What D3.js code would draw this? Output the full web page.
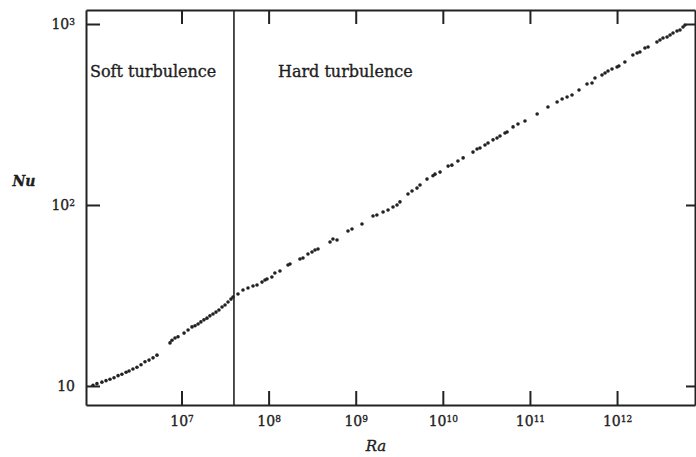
<!DOCTYPE html>
<html>
<head>
<meta charset="utf-8">
<script src="https://cdn.jsdelivr.net/npm/d3@7"></script>
<style>
  html, body { margin: 0; padding: 0; background: #fff; }
  svg { display: block; }
  text { font-family: "DejaVu Serif", "Liberation Serif", serif; fill: #1e1e1e; stroke: #1e1e1e; stroke-width: 0.35px; }
</style>
</head>
<body>
<svg id="chart" width="696" height="457"></svg>
<script>
// Nusselt number against Rayleigh number, helium convection cell
const ra = [
  9.64e5, 1.07e6, 1.22e6, 1.36e6, 1.51e6, 1.68e6, 1.87e6, 2.07e6, 2.31e6, 2.50e6,
  2.77e6, 3.08e6, 3.43e6, 3.81e6, 4.24e6, 4.71e6, 5.23e6, 7.38e6, 7.78e6, 8.42e6,
  9.12e6, 1.07e7, 1.19e7, 1.32e7, 1.43e7, 1.55e7, 1.67e7, 1.81e7, 1.96e7, 2.12e7,
  2.30e7, 2.49e7, 2.69e7, 2.92e7, 3.16e7, 3.42e7, 3.70e7, 3.90e7,
  4.45e7, 5.08e7, 5.80e7, 6.62e7, 7.36e7, 8.40e7, 9.09e7, 9.59e7, 1.09e8, 1.18e8,
  1.35e8, 1.67e8, 1.76e8, 2.29e8, 2.48e8, 2.83e8, 3.15e8, 3.41e8, 3.69e8, 5.07e8,
  5.48e8, 6.10e8, 8.15e8, 9.06e8, 1.18e9, 1.58e9, 1.75e9, 2.06e9, 2.35e9, 2.68e9,
  2.98e9, 3.22e9, 3.98e9, 4.43e9, 5.05e9, 5.47e9, 6.58e9, 7.71e9, 8.13e9, 9.29e9,
  1.15e10, 1.27e10, 1.49e10, 1.71e10, 2.22e10, 2.47e10, 2.67e10, 3.05e10, 3.30e10, 3.77e10,
  4.19e10, 4.53e10, 5.17e10, 5.46e10, 6.40e10, 7.29e10, 8.77e10, 1.21e11, 1.61e11, 2.05e11,
  2.34e11, 2.67e11, 3.04e11, 3.66e11, 4.52e11, 5.16e11, 5.58e11, 6.72e11, 7.28e11, 7.87e11,
  8.75e11, 1.00e12, 1.05e12, 1.23e12, 1.52e12, 1.70e12, 1.83e12, 2.09e12, 2.27e12, 2.87e12,
  3.11e12, 3.37e12, 3.75e12, 4.06e12, 4.39e12, 4.88e12, 5.28e12, 5.72e12, 6.03e12
];
const nu = [
  10.1, 10.3, 10.5, 10.7, 10.9, 11.1, 11.4, 11.6, 11.9, 12.1,
  12.4, 12.7, 13.1, 13.6, 13.9, 14.3, 14.8, 17.3, 17.9, 18.4,
  18.7, 19.6, 20.4, 21.2, 21.5, 22.0, 22.6, 23.2, 23.7, 24.4,
  25.0, 25.6, 26.3, 27.3, 28.0, 29.1, 30.2, 31.0,
  32.2, 33.9, 34.8, 35.7, 36.1, 37.5, 38.5, 39.0, 40.0, 42.1,
  43.2, 46.6, 47.2, 50.3, 50.9, 53.6, 55.0, 56.4, 57.1, 62.4,
  64.9, 64.1, 71.8, 73.7, 78.5, 87.0, 88.1, 91.5, 93.8, 97.5,
  100, 104, 115, 119.5, 124, 129, 139, 145, 148, 152,
  164, 166, 175, 182, 196, 204, 206.5, 214.5, 220, 229,
  234.5, 240.5, 250, 253, 270, 280, 291, 318, 348, 371,
  385, 395, 405, 432, 466, 472, 503, 523, 536, 550,
  564, 579, 586, 617, 674, 692, 700, 737, 746, 795,
  816, 837, 848, 869, 892, 915, 926, 962, 987
];
const raTicks = [1e7, 1e8, 1e9, 1e10, 1e11, 1e12];
const nuTicks = [10, 100, 1000];
const transitionRa = 4e7;
const regionLabels = ["Soft turbulence", "Hard turbulence"];
const axisTitles = { x: "Ra", y: "Nu" };

const svg = d3.select("#chart");
const margin = { top: 10, right: 1, bottom: 52, left: 86 };
const W = 696, H = 457;
const plotW = W - margin.left - margin.right;
const plotH = H - margin.top - margin.bottom;

const x = d3.scaleLog().domain([8.01e5, 7.85e12]).range([0, plotW]);
const y = d3.scaleLog().domain([7.85, 1195]).range([plotH, 0]);

const g = svg.append("g").attr("transform", `translate(${margin.left},${margin.top})`);

// exponent label: "10" with a raised power, plain "10" for the first decade
function powerLabel(sel) {
  sel.each(function(d) {
    const t = d3.select(this);
    const e = Math.round(Math.log10(d));
    t.text(null);
    t.append("tspan").text("10");
    if (e !== 1) {
      t.append("tspan").attr("dy", "-0.45em").attr("font-size", "9px").text(e);
    }
  });
}

const ink = "#222";
const tick = 14;

const xBottom = g.append("g").attr("transform", `translate(0,${plotH})`)
  .call(d3.axisBottom(x).tickValues(raTicks).tickSizeInner(-tick).tickSizeOuter(0).tickPadding(11));
const xTop = g.append("g")
  .call(d3.axisTop(x).tickValues(raTicks).tickSizeInner(-tick).tickSizeOuter(0).tickFormat(""));
const yLeft = g.append("g")
  .call(d3.axisLeft(y).tickValues(nuTicks).tickSizeInner(-tick).tickSizeOuter(0).tickPadding(11));
const yRight = g.append("g").attr("transform", `translate(${plotW},0)`)
  .call(d3.axisRight(y).tickValues(nuTicks).tickSizeInner(-9).tickSizeOuter(0).tickFormat(""));

[xBottom, xTop, yLeft, yRight].forEach(a => {
  a.select(".domain").attr("stroke", ink).attr("stroke-width", 2);
  a.selectAll(".tick line").attr("stroke", ink).attr("stroke-width", 2);
  a.selectAll(".tick text").attr("fill", "#1e1e1e").attr("font-size", "14px")
    .attr("font-family", "DejaVu Serif, Liberation Serif, serif");
});
xBottom.selectAll(".tick text").call(powerLabel);
yLeft.selectAll(".tick text").call(powerLabel);

// boundary between the two regimes
g.append("line")
  .attr("x1", x(transitionRa)).attr("x2", x(transitionRa))
  .attr("y1", 0).attr("y2", plotH)
  .attr("stroke", ink).attr("stroke-width", 1.6);

// regime labels
g.append("text").attr("x", 4).attr("y", 67)
  .attr("font-size", "16px").text(regionLabels[0]);
g.append("text").attr("x", x(transitionRa) + 44).attr("y", 67)
  .attr("font-size", "16px").text(regionLabels[1]);

// measurements
g.append("g").selectAll("circle")
  .data(ra.map((r, i) => [r, nu[i]]))
  .join("circle")
  .attr("cx", d => x(d[0]))
  .attr("cy", d => y(d[1]))
  .attr("r", 1.8)
  .attr("fill", "#222");

// axis titles
svg.append("text").attr("x", 24).attr("y", 186)
  .attr("text-anchor", "middle").attr("font-size", "14px")
  .attr("font-weight", "bold").attr("font-style", "italic").text(axisTitles.y);
svg.append("text").attr("x", 376).attr("y", 451)
  .attr("text-anchor", "middle").attr("font-size", "15px")
  .attr("font-style", "italic").text(axisTitles.x);
</script>
</body>
</html>
